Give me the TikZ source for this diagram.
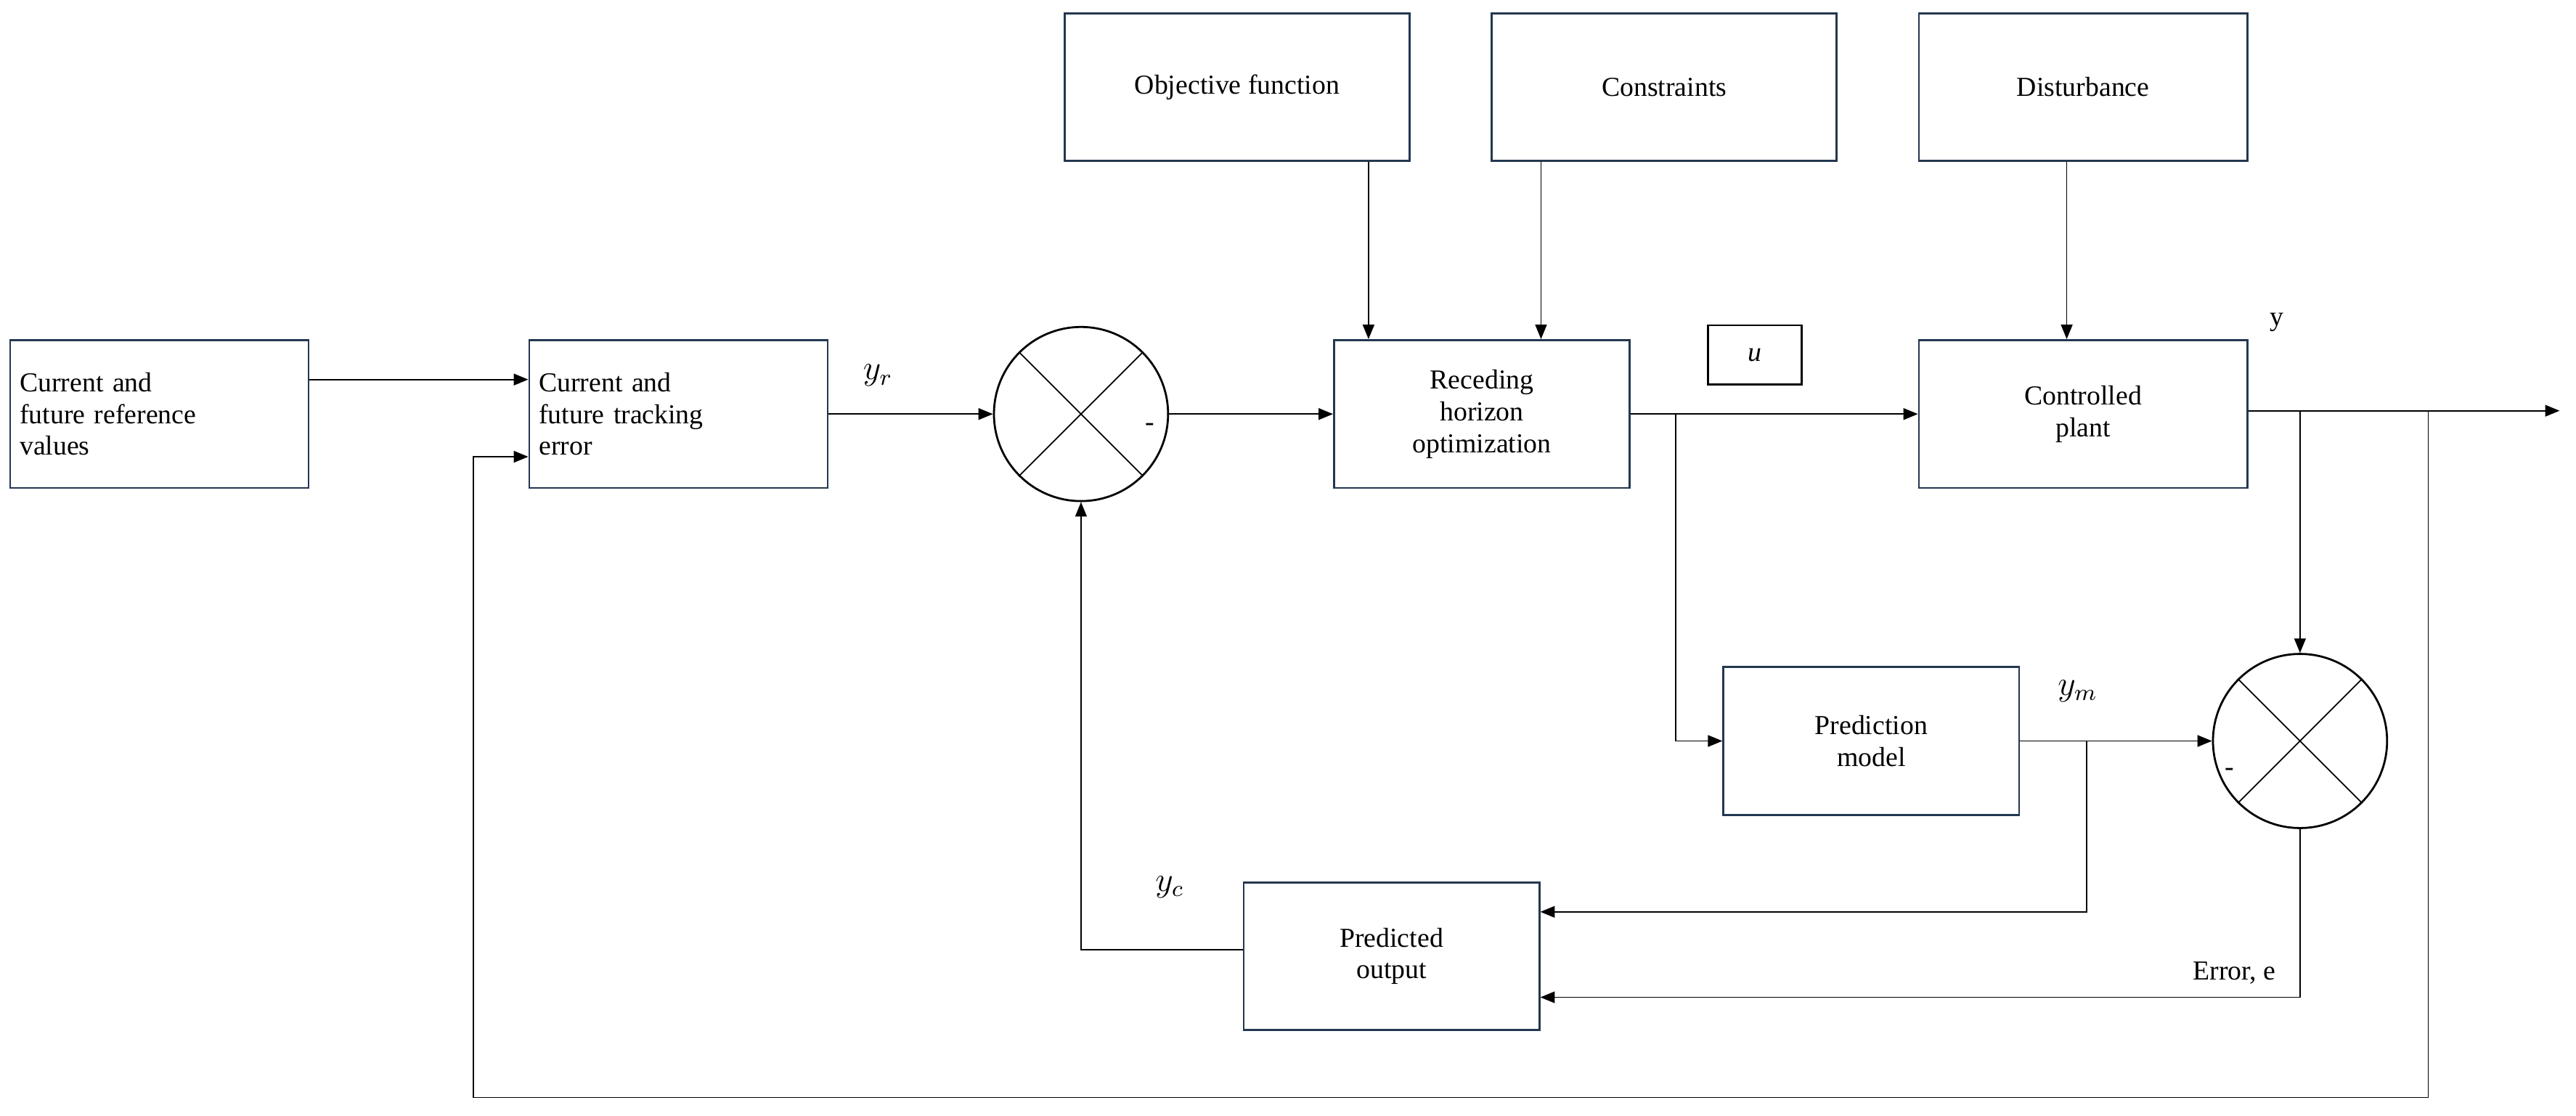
\documentclass[tikz,border=0pt]{standalone}
\usepackage{fontspec}
\setmainfont{Liberation Serif}
\usetikzlibrary{arrows.meta}
\definecolor{boxline}{RGB}{35,55,80}
\begin{document}
\begin{tikzpicture}[x=0.02cm,y=-0.02cm,
  blk/.style={draw=boxline, line width=0.7pt, minimum width=3.6cm, minimum height=1.8cm, align=center, font=\fontsize{9.5}{11}\selectfont},
  sumc/.style={draw, circle, line width=0.7pt, minimum size=2.12cm, inner sep=0pt},
  >={Triangle[length=5pt,width=4pt]}, every path/.style={line width=0.45pt},
  lbl/.style={font=\fontsize{9.5}{11}\selectfont}]
\useasboundingbox (0,0) rectangle (1568,679);
\node[blk, text width=3.4cm, align=left] (ref) at (97,252) {Current and\\future reference\\values};
\node[blk, text width=3.4cm, align=left] (trk) at (413,252) {Current and\\future tracking\\error};
\node[sumc] (s1) at (658,252) {};
\node[blk] (rho) at (902,252) {Receding\\horizon\\optimization};
\node[blk, minimum width=4.2cm] (obj) at (753,53) {Objective function};
\node[blk, minimum width=4.2cm] (con) at (1013,53) {Constraints};
\node[blk, minimum width=4cm] (dis) at (1268,53) {Disturbance};
\node[draw, line width=0.7pt, minimum width=1.14cm, minimum height=0.72cm, lbl] (u) at (1068,216) {$\mathit{u}$};
\node[blk, minimum width=4cm] (pl) at (1268,252) {Controlled\\plant};
\node[sumc] (s2) at (1400,451) {};
\node[blk] (pm) at (1139,451) {Prediction\\model};
\node[blk] (po) at (847,582) {Predicted\\output};
\coordinate (out) at (1558,250);
% crosses in summing junctions
\foreach \s in {s1,s2} {
  \draw (\s.45) -- (\s.225);
  \draw (\s.135) -- (\s.315);
}
% forward path
\draw[->] (ref.east |- 0,231) -- (trk.west |- 0,231);
\draw[->] (trk) -- (s1) node[lbl, pos=0.3, above=6pt] {\large$y_r$};
\draw[->] (s1) -- (rho);
\node[lbl] at (700,260) {-};
\draw[->] (obj.south -| 833,0) -- (rho.north -| 833,0);
\draw[->] (con.south -| 938,0) -- (rho.north -| 938,0);
\draw[->] (dis.south -| 1258,0) -- (pl.north -| 1258,0);
\draw[->] (rho) -- (pl);
\draw[->] (1020,252) |- (pm.west);
\draw[->] (pl.east |- out) -- (out);
\node[lbl] at (1386,196) {y};
\draw[->] (1400,250) -- (s2.north);
\draw[->] (1478,250) |- (288,668) |- (trk.west |- 0,278);
% prediction
\draw[->] (pm) -- (s2) node[lbl, pos=0.3, above=10pt] {\large$y_m$};
\node[lbl] at (1357,470) {-};
\draw[->] (1270,451) |- (po.east |- 0,555);
\draw[->] (s2.south) |- (po.east |- 0,607);
\node[lbl] at (1360,592) {Error, e};
\draw[->] (po.west |- 0,578) -| (s1.south);
\node[lbl] at (712,540) {\large$y_c$};
\end{tikzpicture}
\end{document}
